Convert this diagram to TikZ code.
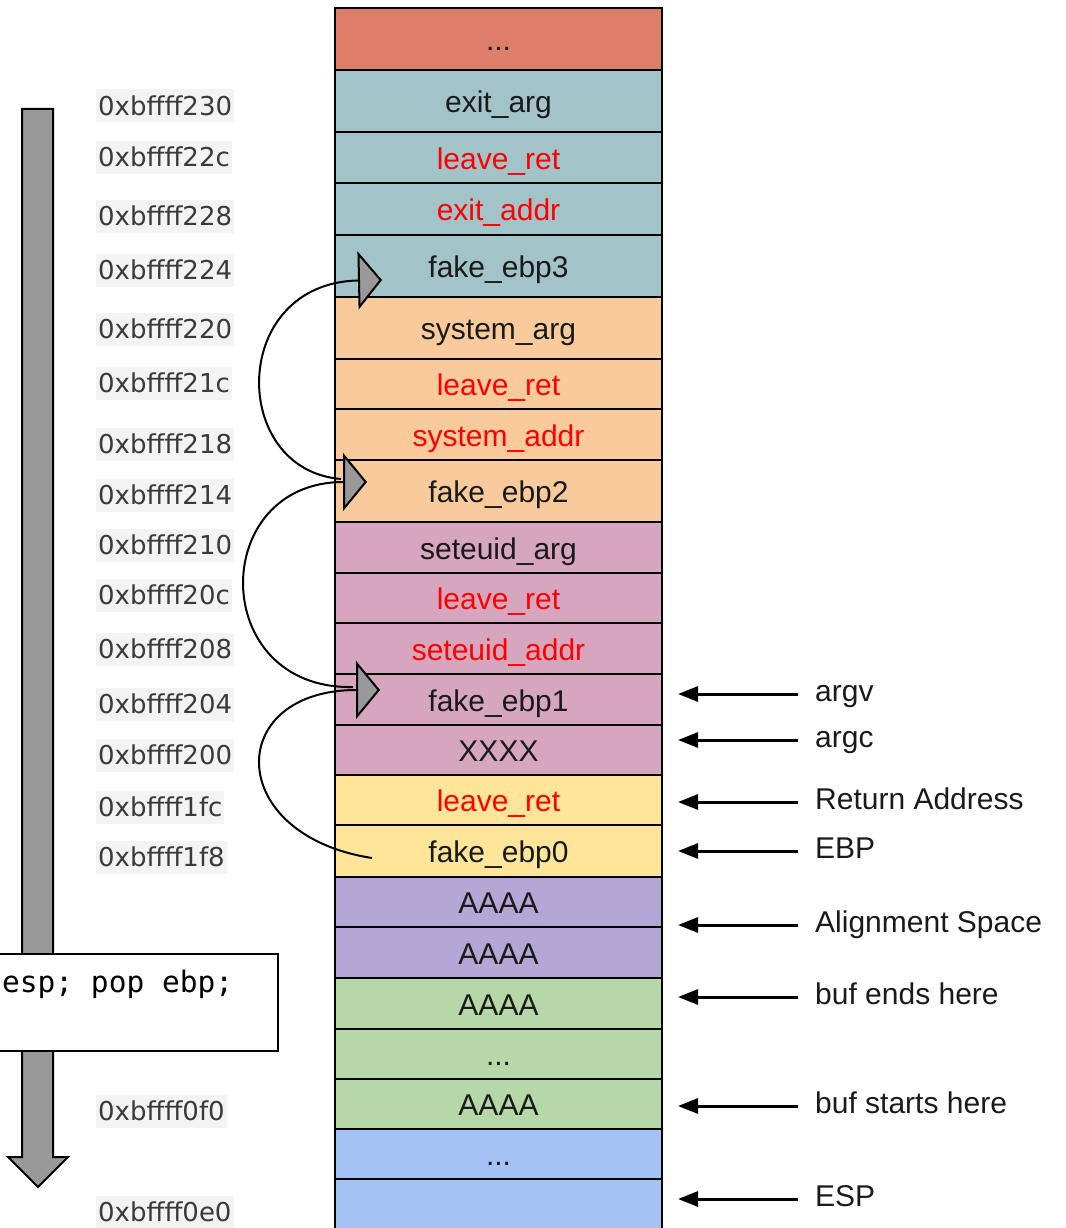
\documentclass[tikz,border=0pt]{standalone}
\usepackage{fontspec}
\setmainfont{Liberation Sans}
\newfontfamily\addrfont{DejaVu Sans}
\newfontfamily\codefont{DejaVu Sans Mono}
\usetikzlibrary{arrows.meta,calc}

\definecolor{topred}{HTML}{DD7E6B}
\definecolor{cteal}{HTML}{A2C4C9}
\definecolor{corange}{HTML}{F9CB9C}
\definecolor{cpink}{HTML}{D5A6BD}
\definecolor{cyellow}{HTML}{FFE599}
\definecolor{cpurple}{HTML}{B4A7D6}
\definecolor{cgreen}{HTML}{B6D7A8}
\definecolor{cblue}{HTML}{A4C2F4}
\definecolor{addrbg}{HTML}{F3F3F3}
\definecolor{addrtext}{HTML}{3A3A3A}
\definecolor{arrowgray}{HTML}{999999}
\definecolor{ink}{HTML}{1A1A1A}

% three periods, kept out of \foreach's range syntax
\newcommand\stackdots{.{}.{}.}

\begin{document}
\begin{tikzpicture}[x=1pt,y=-1pt,
  cell/.style={draw=black, line width=2.8pt, minimum width=327pt, inner sep=0pt, outer sep=0pt,
    font=\fontsize{30}{32}\selectfont, text height=29.5pt, text depth=6.5pt},
  addr/.style={anchor=west, fill=addrbg, text=addrtext, inner xsep=2pt, inner ysep=0pt,
    minimum height=33pt, text height=19pt, text depth=0pt, font=\addrfont\fontsize{26}{28}\selectfont},
  lbl/.style={anchor=west, inner sep=0pt, text=ink, font=\fontsize{30}{32}\selectfont,
    text height=21.5pt, text depth=6.5pt},
  ptr/.style={line width=3pt, -{Triangle[length=20pt,width=15pt]}},
  hop/.style={line width=2pt, -{Triangle[length=24pt,width=58pt,fill=arrowgray]}}
]
\useasboundingbox (0,0) rectangle (1065,1228);
\clip (0,0) rectangle (1065,1228);

% growth direction of the stack
\draw[line width=2pt, fill=arrowgray, line join=miter]
  (22,109) -- (53,109) -- (53,1157) -- (68,1157) -- (38,1187) -- (8,1157) -- (22,1157) -- cycle;

% the leave gadget
\node (leavebox) [draw, line width=2pt, fill=white, anchor=north east, minimum width=340pt,
  minimum height=97pt, inner sep=0pt] at (279,953) {};
\node (leavetxt) [anchor=base west, inner sep=0pt, text=black,
  font=\codefont\fontsize{29.5}{32}\selectfont] at (2,992) {esp; pop ebp;};

% stack cells: index / top / bottom / fill / text / text colour
\foreach \i/\ta/\tb/\col/\txt/\tc in {
  1/8/70/topred/\stackdots/ink,
  2/70/132/cteal/exit\_arg/ink,
  3/132/183/cteal/leave\_ret/red,
  4/183/235/cteal/exit\_addr/red,
  5/235/297/cteal/fake\_ebp3/ink,
  6/297/359/corange/system\_arg/ink,
  7/359/409/corange/leave\_ret/red,
  8/409/460/corange/system\_addr/red,
  9/460/522/corange/fake\_ebp2/ink,
  10/522/573/cpink/seteuid\_arg/ink,
  11/573/623/cpink/leave\_ret/red,
  12/623/674/cpink/seteuid\_addr/red,
  13/674/725/cpink/fake\_ebp1/ink,
  14/725/775/cpink/XXXX/ink,
  15/775/825/cyellow/leave\_ret/red,
  16/825/877/cyellow/fake\_ebp0/ink,
  17/877/927/cpurple/AAAA/ink,
  18/927/978/cpurple/AAAA/ink,
  19/978/1029/cgreen/AAAA/ink,
  20/1029/1079/cgreen/\stackdots/ink,
  21/1079/1129/cgreen/AAAA/ink,
  22/1129/1179/cblue/\stackdots/ink,
  23/1179/1270/cblue/{}/ink}{
  \pgfmathsetmacro\h{\tb-\ta}
  \pgfmathsetmacro\m{(\ta+\tb)/2}
  \node[cell, fill=\col, text=\tc, minimum height=\h pt] (c\i) at (498.5,\m) {\txt};
}

% addresses
\foreach \n/\a/\y in {a1/0xbffff230/106, a2/0xbffff22c/157, a3/0xbffff228/216, a4/0xbffff224/270,
  a5/0xbffff220/329, a6/0xbffff21c/383, a7/0xbffff218/444, a8/0xbffff214/495,
  a9/0xbffff210/545, a10/0xbffff20c/595, a11/0xbffff208/649, a12/0xbffff204/704,
  a13/0xbffff200/755, a14/0xbffff1fc/807, a15/0xbffff1f8/857, a16/0xbffff0f0/1111,
  a17/0xbffff0e0/1212}{
  \node[addr] (\n) at (96,\y) {\a};
}

% pointer labels on the right
\coordinate (tipx) at (678,0);
\foreach \n/\t/\y in {argv/argv/694, argc/argc/740, ret/Return Address/802, ebp/EBP/851,
  align/Alignment Space/925, bufend/buf ends here/997, bufstart/buf starts here/1106, esp/ESP/1199}{
  \node[lbl] (\n) at (815,\y) {\t};
  \draw[ptr] ([xshift=-17pt]\n.west) -- (\n.west -| tipx);
}

% fake ebp chain
\coordinate (out0) at ($(c16.west)+(37,7)$);
\coordinate (in1)  at ($(c13.west)+(45,-9.5)$);
\coordinate (out1) at ($(c13.west)+(18,-12.5)$);
\coordinate (in2)  at ($(c9.west)+(32,-9)$);
\coordinate (out2) at ($(c9.west)+(6,-12)$);
\coordinate (in3)  at ($(c5.west)+(47,14)$);

\draw[hop] (out0) .. controls (224,835) and (224,690) .. (in1);
\draw[hop] (out1) .. controls (208,690) and (208,482) .. (in2);
\draw[hop] (out2) .. controls (229,470) and (229,283) .. (in3);
\end{tikzpicture}
\end{document}
